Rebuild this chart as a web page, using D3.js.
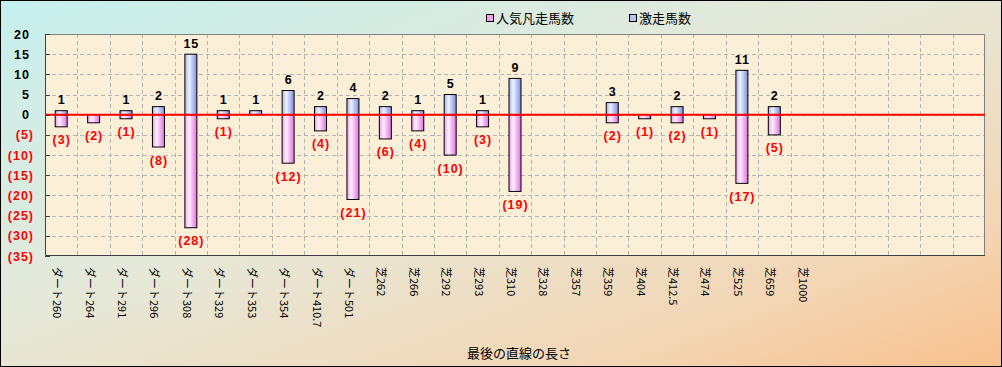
<!DOCTYPE html>
<html><head><meta charset="utf-8">
<script src="https://cdn.jsdelivr.net/npm/d3@7"></script>
<style>
html,body{margin:0;padding:0;background:#fff;}
svg{display:block;}
</style></head>
<body>
<svg id="chart" width="1002" height="367"></svg>
<script>
// ---- data ----
const categories = ["ダート260","ダート264","ダート291","ダート296","ダート308","ダート329","ダート353","ダート354","ダート410.7","ダート501",
  "芝262","芝266","芝292","芝293","芝310","芝328","芝357","芝359","芝404","芝412.5","芝474","芝525","芝659","芝1000","","","","",""];
const gekisou = [1,0,1,2,15,1,1,6,2,4,2,1,5,1,9,0,0,3,0,2,0,11,2,0,0,0,0,0,0];   // 激走馬数
const bonsou  = [3,2,1,8,28,1,0,12,4,21,6,4,10,3,19,0,0,2,1,2,1,17,5,0,0,0,0,0,0]; // 人気凡走馬数
const yTicks = [20,15,10,5,0,-5,-10,-15,-20,-25,-30,-35];
const seriesNames = ["人気凡走馬数","激走馬数"];
const axisTitle = "最後の直線の長さ";

const W = 1002, H = 367;
const plot = {left:45, right:985, top:34, bottom:256};
const svg = d3.select("#chart");
const defs = svg.append("defs");

const bg = defs.append("linearGradient").attr("id","bg").attr("x1",0).attr("y1",0).attr("x2",1).attr("y2",1);
bg.append("stop").attr("offset","0%").attr("stop-color","#c6f0ee");
bg.append("stop").attr("offset","45%").attr("stop-color","#e6e8d8");
bg.append("stop").attr("offset","80%").attr("stop-color","#f3d6b4");
bg.append("stop").attr("offset","100%").attr("stop-color","#f8c08e");

const gBlue = defs.append("linearGradient").attr("id","gBlue").attr("x1",0).attr("y1",0).attr("x2",1).attr("y2",0);
gBlue.append("stop").attr("offset","0%").attr("stop-color","#a4b0ee");
gBlue.append("stop").attr("offset","35%").attr("stop-color","#eef2ff");
gBlue.append("stop").attr("offset","100%").attr("stop-color","#7e8ee0");
const gPink = defs.append("linearGradient").attr("id","gPink").attr("x1",0).attr("y1",0).attr("x2",1).attr("y2",0);
gPink.append("stop").attr("offset","0%").attr("stop-color","#f09cf0");
gPink.append("stop").attr("offset","35%").attr("stop-color","#fff0ff");
gPink.append("stop").attr("offset","100%").attr("stop-color","#e070e0");

svg.append("rect").attr("x",0.5).attr("y",0.5).attr("width",W-1).attr("height",H-1)
  .attr("fill","url(#bg)").attr("stroke","#000").attr("stroke-width",1);

const x = d3.scaleBand().domain(d3.range(categories.length)).range([plot.left, plot.right]).padding(0);
const y = d3.scaleLinear().domain([-35,20]).range([plot.bottom, plot.top]);
const barW = 12;

// plot area
svg.append("rect").attr("x",plot.left).attr("y",plot.top)
  .attr("width",plot.right-plot.left).attr("height",plot.bottom-plot.top)
  .attr("fill","#fcefd8");

// grid
const grid = svg.append("g").attr("stroke","#b4b4b4").attr("stroke-dasharray","4,3").attr("stroke-width",1);
grid.selectAll("line.h").data(yTicks.filter(t=>t!==20 && t!==-35)).join("line")
  .attr("x1",plot.left).attr("x2",plot.right).attr("y1",d=>Math.round(y(d))+0.5).attr("y2",d=>Math.round(y(d))+0.5);
grid.selectAll("line.v").data(d3.range(1,categories.length)).join("line")
  .attr("x1",d=>Math.round(x(d))+0.5).attr("x2",d=>Math.round(x(d))+0.5).attr("y1",plot.top).attr("y2",plot.bottom);

// border top/right gray
svg.append("path").attr("d",`M${plot.left},${plot.top+0.5}H${plot.right-0.5}V${plot.bottom}`)
  .attr("fill","none").attr("stroke","#808080").attr("stroke-width",1);

// bars
const cx = i => x(i) + x.bandwidth()/2;
const idx = d3.range(categories.length);
svg.append("g").selectAll("rect").data(idx.filter(i=>bonsou[i]>0)).join("rect")
  .attr("x",i=>cx(i)-barW/2).attr("y",y(0)).attr("width",barW).attr("height",i=>y(-bonsou[i])-y(0))
  .attr("fill","url(#gPink)").attr("stroke","#000").attr("stroke-width",1);
svg.append("g").selectAll("rect").data(idx.filter(i=>gekisou[i]>0)).join("rect")
  .attr("x",i=>cx(i)-barW/2).attr("y",i=>y(gekisou[i])).attr("width",barW).attr("height",i=>y(0)-y(gekisou[i]))
  .attr("fill","url(#gBlue)").attr("stroke","#000").attr("stroke-width",1);

// zero line
svg.append("line").attr("x1",plot.left).attr("x2",plot.right).attr("y1",y(0)).attr("y2",y(0))
  .attr("stroke","#ff0000").attr("stroke-width",2.2);

// axes lines
svg.append("path").attr("d",`M${plot.left+0.5},${plot.top}V${plot.bottom-0.5}H${plot.right}`)
  .attr("fill","none").attr("stroke","#404040").attr("stroke-width",1);
svg.append("g").selectAll("line").data(yTicks).join("line")
  .attr("x1",plot.left).attr("x2",plot.left+5).attr("y1",d=>Math.round(y(d))+0.5).attr("y2",d=>Math.round(y(d))+0.5)
  .attr("stroke","#404040");

const numFont = "'Liberation Sans', Arial, sans-serif";
// y tick labels
svg.append("g").selectAll("text").data(yTicks).join("text")
  .attr("x",d=>d<0?34:30).attr("y",d=>y(d)).attr("dy","0.36em")
  .attr("text-anchor","end").attr("font-family",numFont).attr("font-weight","bold")
  .attr("font-size",12.5).attr("letter-spacing",1)
  .attr("fill",d=>d<0?"#ff0000":"#000")
  .text(d=>d<0?`(${-d})`:d);

// value labels
svg.append("g").selectAll("text").data(idx.filter(i=>gekisou[i]>0)).join("text")
  .attr("x",i=>cx(i)+0.5).attr("y",i=>y(gekisou[i])-11).attr("dy","0.36em")
  .attr("text-anchor","middle").attr("font-family",numFont).attr("font-weight","bold")
  .attr("font-size",12.5).attr("letter-spacing",1).attr("fill","#000")
  .text(i=>gekisou[i]);
svg.append("g").selectAll("text").data(idx.filter(i=>bonsou[i]>0)).join("text")
  .attr("x",i=>cx(i)+0.5).attr("y",i=>y(-bonsou[i])+13).attr("dy","0.36em")
  .attr("text-anchor","middle").attr("font-family",numFont).attr("font-weight","bold")
  .attr("font-size",12.5).attr("letter-spacing",1).attr("fill","#ff0000")
  .text(i=>`(${bonsou[i]})`);

// x labels rotated
const jpFont = "'Noto Sans CJK JP', sans-serif";
svg.append("g").selectAll("text").data(idx).join("text")
  .attr("transform",i=>`translate(${cx(i)-3},267) rotate(90)`)
  .attr("dominant-baseline","central")
  .attr("font-family",jpFont).attr("font-size",11).attr("fill","#000")
  .text(i=>categories[i]);

// axis title
svg.append("text").attr("x",(plot.left+plot.right)/2+4).attr("y",353).attr("dy","0.36em")
  .attr("text-anchor","middle").attr("font-family",jpFont).attr("font-size",13).attr("fill","#000")
  .text(axisTitle);

// legend
const legX = [486, 629];
const legFill = ["#f8a0f0","#b8c4f4"];
const leg = svg.append("g");
seriesNames.forEach((n,k)=>{
  leg.append("rect").attr("x",legX[k]+0.5).attr("y",14.5).attr("width",7).attr("height",7)
    .attr("fill",legFill[k]).attr("stroke","#000");
  leg.append("text").attr("x",legX[k]+10).attr("y",18.5).attr("dy","0.36em")
    .attr("font-family",jpFont).attr("font-size",13).attr("fill","#000").text(n);
});
</script>
</body></html>
